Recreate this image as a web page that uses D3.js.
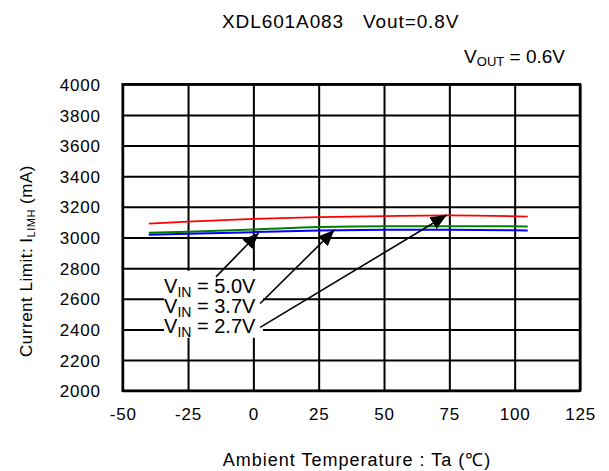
<!DOCTYPE html>
<html>
<head>
<meta charset="utf-8">
<script src="https://cdn.jsdelivr.net/npm/d3@7"></script>
<style>
	body { margin: 0; background: #fff; }
	text { font-family: "Liberation Sans", Arial, sans-serif; fill: #000; }
</style>
</head>
<body>
<div id="chart"></div>
<script>

var temps = [-40, -25, 0, 25, 50, 75, 105];
var vin50 = [3018, 3024, 3035, 3046, 3050, 3050, 3046];
var vin37 = [3031, 3038, 3052, 3068, 3074, 3074, 3072];
var vin27 = [3091, 3104, 3122, 3133, 3140, 3144, 3137];

var xTicks = [-50, -25, 0, 25, 50, 75, 100, 125];
var yTicks = [2000, 2200, 2400, 2600, 2800, 3000, 3200, 3400, 3600, 3800, 4000];

var labels = ["5.0V", "3.7V", "2.7V"];
var labelY = [2639, 2509, 2378];
// arrow tail / head in data units
var arrowFrom = [[-14.3, 2743], [2.6, 2569], [2.6, 2413]];
var arrowTo = [[2, 3030], [31, 3049], [74, 3147]];

drawChart();

function drawChart(){

	var width = 609, height = 471;
	var margin = {top: 84.3, right: 29, bottom: 80.3, left: 122.7};
	var w = width - margin.left - margin.right;
	var h = height - margin.top - margin.bottom;

	var svg = d3.select("#chart").append("svg")
		.attr("width", width)
		.attr("height", height);

	var defs = svg.append("defs");
	defs.append("marker").attr("id", "head")
		.attr("viewBox", "0 0 14 12").attr("refX", 14).attr("refY", 6)
		.attr("markerUnits", "userSpaceOnUse")
		.attr("markerWidth", 16).attr("markerHeight", 14).attr("orient", "auto")
		.append("path").attr("d", "M0,0 L14,6 L0,12 Z").attr("fill", "#000");

	var g = svg.append("g").attr("transform", "translate(" + margin.left + "," + margin.top + ")");

	var x = d3.scaleLinear().domain([-50, 125]).range([0, w]);
	var y = d3.scaleLinear().domain([2000, 4000]).range([h, 0]);

	// grid
	var xAxis = g.append("g").attr("transform", "translate(0," + h + ")")
		.call(d3.axisBottom(x).tickValues(xTicks).tickSize(-h).tickFormat(String));
	var yAxis = g.append("g")
		.call(d3.axisLeft(y).tickValues(yTicks).tickSize(-w).tickFormat(String));

	[xAxis, yAxis].forEach(function (a) {
		a.select(".domain").remove();
		a.selectAll(".tick line").attr("stroke", "#000").attr("stroke-width", 2);
		a.selectAll(".tick text").style("font-size", "17px").style("letter-spacing", "0.8px")
			.style("font-family", "'Liberation Sans', Arial, sans-serif").attr("fill", "#000");
	});
	xAxis.selectAll(".tick text").attr("y", 17).attr("dy", "0.71em");
	yAxis.selectAll(".tick text").attr("x", -22).attr("dy", "0.36em");

	g.append("rect").attr("width", w).attr("height", h)
		.attr("fill", "none").attr("stroke", "#000").attr("stroke-width", 2.5);

	// curves
	var line = d3.line().x(function (d) { return x(d[0]); }).y(function (d) { return y(d[1]); })
		.curve(d3.curveMonotoneX);

	var series = [
		{vals: vin27, color: "#ff0000", sw: 1.7},
		{vals: vin37, color: "#008000", sw: 2},
		{vals: vin50, color: "#0000ff", sw: 2}
	];
	series.forEach(function (s) {
		g.append("path")
			.datum(temps.map(function (t, i) { return [t, s.vals[i]]; }))
			.attr("d", line).attr("fill", "none")
			.attr("stroke", s.color).attr("stroke-width", s.sw);
	});

	// annotation labels with white backing
	var ann = g.append("g");
	var box = ann.append("rect").attr("fill", "#fff");
	labels.forEach(function (l, i) {
		var t = ann.append("text").attr("x", x(0) + 2).attr("y", y(labelY[i]))
			.attr("text-anchor", "end").style("font-size", "20px");
		t.append("tspan").text("V");
		t.append("tspan").text("IN").style("font-size", "14px").attr("dy", 4);
		t.append("tspan").text(" = " + l).attr("dy", -4);
	});
	var bb = ann.node().getBBox();
	box.attr("x", bb.x).attr("y", bb.y - 4).attr("width", bb.width + 7).attr("height", bb.height + 2);

	arrowFrom.forEach(function (a, i) {
		g.append("line")
			.attr("x1", x(a[0])).attr("y1", y(a[1]))
			.attr("x2", x(arrowTo[i][0])).attr("y2", y(arrowTo[i][1]))
			.attr("stroke", "#000").attr("stroke-width", 1.6)
			.attr("marker-end", "url(#head)");
	});

	// titles
	svg.append("text").attr("x", 222).attr("y", 28)
		.style("font-size", "19px").style("letter-spacing", "0.9px")
		.text("XDL601A083");
	svg.append("text").attr("x", 363).attr("y", 28)
		.style("font-size", "19px").style("letter-spacing", "0.9px")
		.text("Vout=0.8V");

	var vo = svg.append("text").attr("x", 565).attr("y", 63).attr("text-anchor", "end")
		.style("font-size", "19px");
	vo.append("tspan").text("V");
	vo.append("tspan").text("OUT").style("font-size", "13px").attr("dy", 3);
	vo.append("tspan").text(" = 0.6V").attr("dy", -3);

	svg.append("text").attr("x", 357).attr("y", 466).attr("text-anchor", "middle")
		.style("font-size", "18px").style("letter-spacing", "1px")
		.text("Ambient Temperature : Ta (\u2103)");

	var yl = svg.append("text").attr("transform", "translate(32,261) rotate(-90)")
		.attr("text-anchor", "middle").style("font-size", "17px").style("letter-spacing", "0.5px");
	yl.append("tspan").text("Current Limit: I");
	yl.append("tspan").text("LIMH").style("font-size", "11px").attr("dy", 3);
	yl.append("tspan").text(" (mA)").attr("dy", -3);
}
</script>
</body>
</html>
